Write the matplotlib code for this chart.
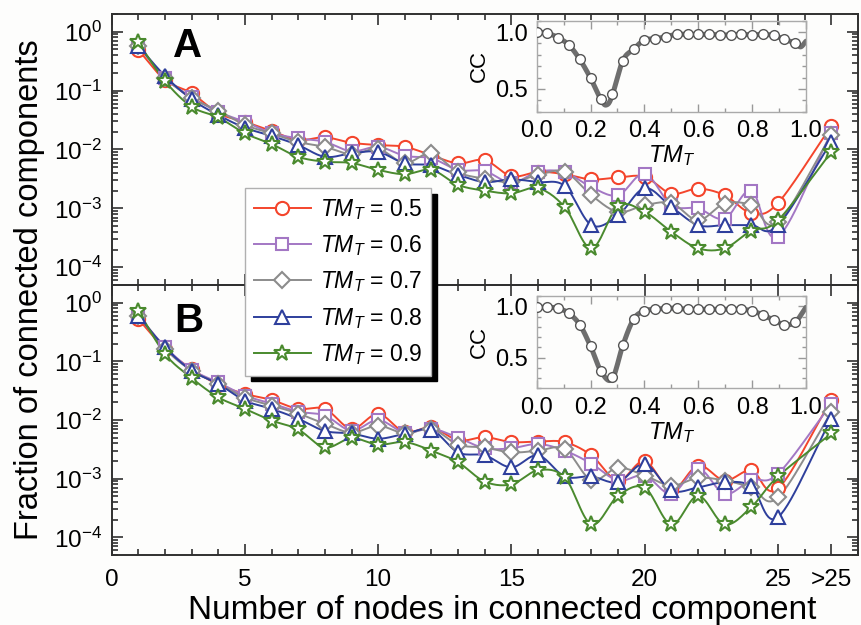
import numpy as np
import matplotlib
matplotlib.use("Agg")
import matplotlib.pyplot as plt
from matplotlib.ticker import FixedLocator, LogLocator, NullFormatter, FuncFormatter, MultipleLocator
from matplotlib.lines import Line2D

plt.rcParams.update({
    "font.family": ["Liberation Sans", "DejaVu Sans"],
    "mathtext.fontset": "custom",
    "mathtext.rm": "Liberation Sans",
    "mathtext.it": "Liberation Sans:italic",
    "mathtext.bf": "Liberation Sans:bold",
})

# ---------------- data ----------------
sizes = [1, 2, 3, 4, 5, 6, 7, 8, 9, 10, 11, 12, 13, 14, 15, 16, 17, 18, 19, 20, 21, 22, 23, 24, 25, 27]
xtick_pos = [0, 5, 10, 15, 20, 25, 27]
xtick_lab = ["0", "5", "10", "15", "20", "25", ">25"]
tm_labels = ["0.5", "0.6", "0.7", "0.8", "0.9"]

# Panel A
a_05 = [0.493, 0.152, 0.0904, 0.0412, 0.0296, 0.0206, 0.0145, 0.0161, 0.0130, 0.0119, 0.0111, 0.0080, 0.0058,
        0.0066, 0.00352, 0.00417, 0.0038, 0.0031, 0.00335, 0.00343, 0.00178, 0.00217, 0.00167, 0.00084, 0.00124, 0.0251]
a_06 = [0.575, 0.166, 0.0776, 0.0437, 0.0296, 0.0191, 0.0155, 0.0135, 0.0093, 0.0111, 0.0078, 0.0071, 0.0045,
        0.0043, 0.0027, 0.0042, 0.0041, 0.0023, 0.00167, 0.0039, 0.00113, 0.0010, 0.00067, 0.0020, 0.00033, 0.0193]
a_07 = [0.575, 0.166, 0.0752, 0.0457, 0.0261, 0.0188, 0.0134, 0.0111, 0.0083, 0.0102, 0.0059, 0.0086, 0.0041,
        0.0032, 0.0028, 0.0037, 0.0042, 0.00167, 0.00087, 0.00113, 0.00123, 0.00063, 0.00121, 0.00113, 0.00058, 0.0176]
a_08 = [0.575, 0.178, 0.0713, 0.0385, 0.0234, 0.0170, 0.0119, 0.0075, 0.0086, 0.0091, 0.0058, 0.0054, 0.0037,
        0.0028, 0.0031, 0.0028, 0.0024, 0.00052, 0.00076, 0.0022, 0.00106, 0.00052, 0.00052, 0.00052, 0.00052, 0.0135]
a_09 = [0.658, 0.146, 0.0533, 0.0352, 0.0188, 0.0124, 0.0075, 0.0062, 0.0059, 0.0045, 0.0038, 0.0045, 0.0025,
        0.0020, 0.0018, 0.0022, 0.00105, 0.00021, 0.00109, 0.00087, 0.00040, 0.00021, 0.00021, 0.00042, 0.00063, 0.0091]

# Panel B
b_05 = [0.527, 0.164, 0.0741, 0.0401, 0.0279, 0.0220, 0.0155, 0.0155, 0.0071, 0.0127, 0.0062, 0.0075, 0.0045,
        0.0051, 0.0042, 0.0043, 0.0042, 0.0025, 0.00093, 0.0020, 0.00063, 0.00167, 0.00093, 0.00138, 0.00068, 0.0220]
b_06 = [0.603, 0.178, 0.0724, 0.0437, 0.0261, 0.0191, 0.0139, 0.0119, 0.0066, 0.0100, 0.0061, 0.0071, 0.0050,
        0.0033, 0.0033, 0.0039, 0.0030, 0.0018, 0.00093, 0.00113, 0.00055, 0.00148, 0.00055, 0.00095, 0.00121, 0.0188]
b_07 = [0.603, 0.164, 0.0695, 0.0417, 0.0241, 0.0176, 0.0129, 0.0086, 0.0061, 0.0080, 0.0059, 0.0071, 0.0038,
        0.0034, 0.0028, 0.0030, 0.0032, 0.00095, 0.00153, 0.00113, 0.00076, 0.00103, 0.00093, 0.00071, 0.00048, 0.0135]
b_08 = [0.603, 0.174, 0.0695, 0.0412, 0.0214, 0.0155, 0.0105, 0.0065, 0.0059, 0.0048, 0.0058, 0.0068, 0.0028,
        0.0025, 0.00156, 0.0025, 0.00109, 0.00109, 0.00087, 0.00179, 0.00063, 0.00071, 0.00087, 0.00074, 0.00022, 0.0105]
b_09 = [0.731, 0.134, 0.0521, 0.0244, 0.0155, 0.0098, 0.0069, 0.0034, 0.0049, 0.0038, 0.0042, 0.0030, 0.0019,
        0.00089, 0.00080, 0.00139, 0.00105, 0.000166, 0.00051, 0.00070, 0.000166, 0.00051, 0.000166, 0.00033, 0.00109, 0.0059]

# Insets: CC vs TM_T
tm_pts = [0.00, 0.04, 0.08, 0.12, 0.16, 0.20, 0.24, 0.28, 0.32, 0.36, 0.40, 0.44, 0.48, 0.52, 0.56, 0.60,
          0.64, 0.68, 0.72, 0.76, 0.80, 0.84, 0.88, 0.92, 0.96]
cc_a = [1.0, 0.99, 0.95, 0.885, 0.76, 0.595, 0.41, 0.46, 0.75, 0.85, 0.93, 0.94, 0.96, 0.98, 0.98, 0.98,
        0.98, 0.975, 0.975, 0.98, 0.975, 0.98, 0.97, 0.935, 0.905]
cc_b = [0.99, 0.99, 0.98, 0.93, 0.82, 0.61, 0.37, 0.31, 0.62, 0.875, 0.955, 0.97, 0.98, 0.98, 0.97, 0.97,
        0.97, 0.97, 0.97, 0.97, 0.955, 0.915, 0.865, 0.82, 0.845]
curve_a_x = [0.00, 0.04, 0.08, 0.12, 0.16, 0.20, 0.24, 0.26, 0.28, 0.32, 0.36, 0.40, 0.44, 0.48, 0.52, 0.56,
             0.60, 0.64, 0.68, 0.72, 0.76, 0.80, 0.84, 0.88, 0.92, 0.96, 0.98, 1.00]
curve_a_y = [1.0, 0.99, 0.95, 0.885, 0.76, 0.595, 0.40, 0.36, 0.44, 0.75, 0.85, 0.93, 0.94, 0.96, 0.98, 0.98,
             0.98, 0.98, 0.975, 0.975, 0.98, 0.975, 0.98, 0.97, 0.935, 0.905, 0.87, 0.92]
curve_b_x = [0.00, 0.04, 0.08, 0.12, 0.16, 0.20, 0.24, 0.28, 0.32, 0.36, 0.40, 0.44, 0.48, 0.52, 0.56, 0.60,
             0.64, 0.68, 0.72, 0.76, 0.80, 0.84, 0.88, 0.92, 0.96, 1.00]
curve_b_y = [0.99, 0.99, 0.98, 0.93, 0.82, 0.61, 0.36, 0.29, 0.62, 0.875, 0.955, 0.97, 0.98, 0.98, 0.97, 0.97,
             0.97, 0.97, 0.97, 0.97, 0.955, 0.915, 0.865, 0.82, 0.845, 0.99]

# ---------------- style ----------------
colors = ["#f4452c", "#a377c4", "#8c8c8c", "#2e3f9c", "#4a8a2e"]
markers = ["o", "s", "D", "^", "*"]
msizes = [9.5, 8.5, 8.5, 10, 12]
spine_c = "#303030"


def smooth(x, y, n=14):
    P = np.column_stack([np.asarray(x, float), np.asarray(y, float)])
    P = np.vstack([2 * P[0] - P[1], P, 2 * P[-1] - P[-2]])
    out = []
    t = np.linspace(0, 1, n, endpoint=False)[:, None]
    for i in range(1, len(P) - 2):
        p0, p1, p2, p3 = P[i - 1], P[i], P[i + 1], P[i + 2]
        seg = 0.5 * (2 * p1 + (-p0 + p2) * t + (2 * p0 - 5 * p1 + 4 * p2 - p3) * t ** 2
                     + (-p0 + 3 * p1 - 3 * p2 + p3) * t ** 3)
        out.append(seg)
    out.append(P[-2][None, :])
    S = np.vstack(out)
    return S[:, 0], S[:, 1]


W, H = 862, 625
fig = plt.figure(figsize=(W / 100, H / 100), dpi=100, facecolor="#fdfdfc")

L, R = 111.6, 858.0
axA = fig.add_axes([L / W, 1 - 285 / H, (R - L) / W, (285 - 14) / H])
axB = fig.add_axes([L / W, 1 - 555 / H, (R - L) / W, (555 - 285) / H])

logfmt = FuncFormatter(lambda v, p: r"$10^{%d}$" % int(round(np.log10(v))))

for ax, series in [(axA, [a_05, a_06, a_07, a_08, a_09]), (axB, [b_05, b_06, b_07, b_08, b_09])]:
    ax.set_facecolor("none")
    ax.set_yscale("log")
    for vals, c, m, ms in zip(series, colors, markers, msizes):
        sx, sy = smooth(sizes, np.log10(vals))
        ax.plot(sx, 10 ** sy, color=c, lw=1.4, zorder=2)
        ax.plot(sizes, vals, ls="none", marker=m, ms=ms, mfc="white", mec=c, mew=1.5, zorder=3)
    ax.set_xlim(0, 28)
    ax.set_ylim(5e-5, 2)
    ax.xaxis.set_major_locator(FixedLocator(xtick_pos))
    ax.xaxis.set_minor_locator(MultipleLocator(1))
    ax.set_xticklabels(xtick_lab)
    ax.yaxis.set_major_locator(LogLocator(base=10, numticks=10))
    ax.yaxis.set_minor_locator(LogLocator(base=10, subs=np.arange(2, 10), numticks=10))
    ax.yaxis.set_major_formatter(logfmt)
    ax.yaxis.set_minor_formatter(NullFormatter())
    ax.tick_params(which="both", direction="in", top=True, right=True, colors=spine_c, width=1.2)
    ax.tick_params(which="major", length=8, labelsize=17.5, labelcolor="black")
    ax.tick_params(which="minor", length=4)
    ax.tick_params(axis="x", which="major", pad=10)
    ax.tick_params(axis="y", which="major", pad=7)
    for s in ax.spines.values():
        s.set_color(spine_c)
        s.set_linewidth(1.4)

axA.tick_params(axis="x", labelbottom=False)

# insets
def inset(rect, xs, ys, cx, cy, ylo):
    ia = fig.add_axes(rect)
    ia.set_facecolor("none")
    scx, scy = smooth(cx, cy, n=10)
    ia.plot(scx, scy, color="#6e6e6e", lw=3.6, solid_capstyle="round", zorder=2)
    ia.plot(xs, ys, ls="none", marker="o", ms=7, mfc="white", mec="#555555", mew=1.0, zorder=3)
    ia.set_xlim(0, 1.0)
    ia.set_ylim(ylo, 1.1)
    ia.xaxis.set_major_locator(MultipleLocator(0.2))
    ia.xaxis.set_minor_locator(MultipleLocator(0.1))
    ia.yaxis.set_major_locator(FixedLocator([0.5, 1.0]))
    ia.yaxis.set_minor_locator(MultipleLocator(0.1))
    ia.xaxis.set_major_formatter(FuncFormatter(lambda v, p: "%.1f" % v))
    ia.yaxis.set_major_formatter(FuncFormatter(lambda v, p: "%.1f" % v))
    ia.tick_params(which="both", direction="in", top=True, right=True, colors="#999999", width=1.0)
    ia.tick_params(which="major", length=6, labelsize=17, labelcolor="black", pad=6)
    ia.tick_params(which="minor", length=3)
    for s in ia.spines.values():
        s.set_color("#aaaaaa")
        s.set_linewidth(1.0)
    ia.set_xlabel(r"$\mathit{TM}_T$", fontsize=17, labelpad=1)
    ia.set_ylabel("CC", fontsize=16, labelpad=4)
    return ia

inset([536.7 / W, 1 - 111.7 / H, (806 - 536.7) / W, (111.7 - 20.7) / H], tm_pts, cc_a, curve_a_x, curve_a_y, 0.3)
inset([536.7 / W, 1 - 388.3 / H, (806 - 536.7) / W, (388.3 - 296) / H], tm_pts, cc_b, curve_b_x, curve_b_y, 0.2)

# legend
handles = [Line2D([], [], color=c, marker=m, ms=ms, mfc="white", mec=c, mew=1.5, lw=1.4)
           for c, m, ms in zip(colors, markers, msizes)]
labels = [r"$\mathit{TM}_T$ = " + t for t in tm_labels]
leg = fig.legend(handles, labels, loc="upper left", bbox_to_anchor=(245 / W, 1 - 188 / H),
                 frameon=True, fancybox=False, fontsize=16.5, handlelength=2.5, handletextpad=0.4,
                 labelspacing=0.5, borderpad=0.38, borderaxespad=0,
                 shadow={"ox": 4, "oy": -4, "facecolor": "black", "edgecolor": "black", "alpha": 1})
leg.get_frame().set_edgecolor("#b0b0b0")
leg.get_frame().set_linewidth(1.0)
leg.get_frame().set_facecolor("white")
leg.get_frame().set_alpha(1)

# panel letters and axis labels
fig.text(188 / W, 1 - 46 / H, "A", fontsize=29, fontweight="bold", ha="center", va="center")
fig.text(189 / W, 1 - 321 / H, "B", fontsize=29, fontweight="bold", ha="center", va="center")
fig.text(502 / W, 1 - 619 / H, "Number of nodes in connected component", fontsize=24,
         ha="center", va="baseline")
fig.text(30 / W, 1 - 290 / H, "Fraction of connected components", fontsize=23.5,
         ha="center", va="center", rotation=90)

fig.savefig("out.png", dpi=100, facecolor=fig.get_facecolor())
